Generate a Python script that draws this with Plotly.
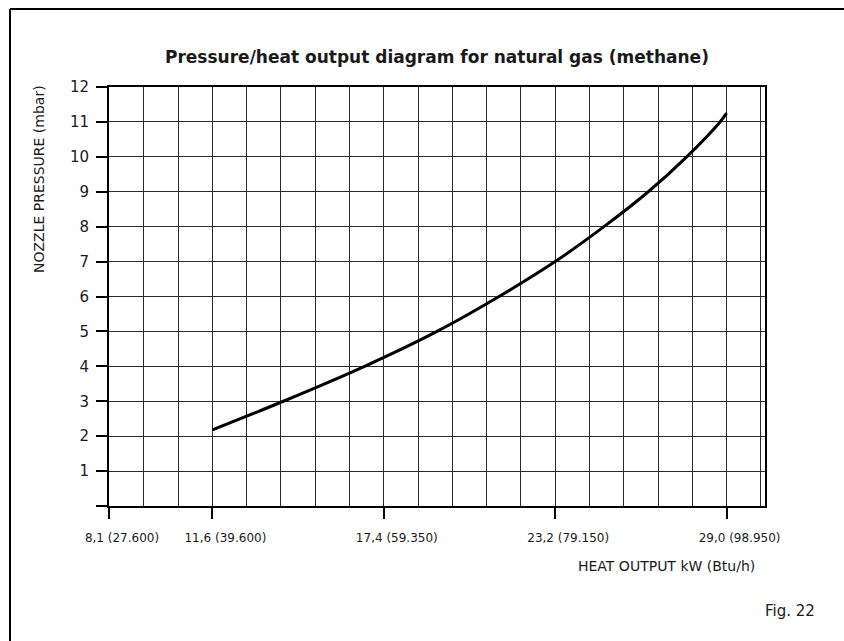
import plotly.graph_objects as go

# Heat output (kW) and nozzle pressure (mbar) along the curve
heat_kw = [11.6, 14.0, 16.75, 19.2, 21.3, 23.2, 24.85, 26.35, 27.65, 28.78, 29.0]
pressure_mbar = [2.18, 3, 4, 5, 6, 7, 8, 9, 10, 11, 11.25]

# Labelled heat output ticks: kW and matching Btu/h
tick_kw = [8.1, 11.6, 17.4, 23.2, 29.0]
tick_btu = ["27.600", "39.600", "59.350", "79.150", "98.950"]
tick_labels = [f"{str(k).replace('.', ',')} ({b})" for k, b in zip(tick_kw, tick_btu)]

pressure_ticks = list(range(0, 13))
pressure_labels = [""] + [str(v) for v in pressure_ticks[1:]]

W, H = 844, 641
L, R, T, B = 109, 79, 87, 135
PW, PH = W - L - R, H - T - B


def px(x):
    return (x - L) / PW


def py(y):
    return (H - B - y) / PH


FONT = "DejaVu Sans"
INK = "#1a1a1a"
GRID = "#2a2a2a"

fig = go.Figure()
fig.add_trace(go.Scatter(
    x=heat_kw, y=pressure_mbar, mode="lines",
    line=dict(color="black", width=3, shape="spline", smoothing=1.0),
    hoverinfo="skip", showlegend=False,
))

fig.update_layout(
    width=W, height=H,
    margin=dict(l=L, r=R, t=T, b=B, autoexpand=False),
    paper_bgcolor="white", plot_bgcolor="white",
    showlegend=False,
    font=dict(family=FONT, color=INK),
)

fig.update_xaxes(
    range=[8.1, 30.3], autorange=False, automargin=False,
    tickmode="array", tickvals=tick_kw, ticktext=tick_labels,
    tickfont=dict(family=FONT, size=12, color=INK),
    ticks="outside", ticklen=11, tickwidth=1.5, tickcolor="black",
    ticklabelshift=13, ticklabelstandoff=9,
    showgrid=True, gridcolor=GRID, gridwidth=1,
    minor=dict(tick0=11.6, dtick=1.16, showgrid=True, gridcolor=GRID,
               gridwidth=1, ticks=""),
    showline=True, linecolor="black", linewidth=2, mirror=True,
    zeroline=False, fixedrange=True,
)

fig.update_yaxes(
    range=[0, 12], autorange=False, automargin=False,
    tickmode="array", tickvals=pressure_ticks, ticktext=pressure_labels,
    tickfont=dict(family=FONT, size=15, color=INK),
    ticks="outside", ticklen=11, tickwidth=1.5, tickcolor="black",
    ticklabelstandoff=4,
    showgrid=True, gridcolor=GRID, gridwidth=1,
    showline=True, linecolor="black", linewidth=2, mirror=True,
    zeroline=False, fixedrange=True,
)

# Page frame: top and left edges running off the page
frame = dict(type="line", xref="paper", yref="paper",
             line=dict(color="black", width=2), layer="above")
fig.add_shape(x0=px(10), y0=py(9), x1=px(W + 20), y1=py(9), **frame)
fig.add_shape(x0=px(10), y0=py(9), x1=px(10), y1=py(H + 20), **frame)

fig.add_annotation(
    text="<b>Pressure/heat output diagram for natural gas (methane)</b>",
    xref="paper", yref="paper", x=px(437), y=py(57),
    xanchor="center", yanchor="middle", showarrow=False,
    font=dict(family=FONT, size=17, color=INK),
)
fig.add_annotation(
    text="NOZZLE PRESSURE (mbar)", textangle=-90,
    xref="paper", yref="paper", x=px(39), y=py(83),
    xanchor="center", yanchor="top", showarrow=False,
    font=dict(family=FONT, size=14, color=INK),
)
fig.add_annotation(
    text="HEAT OUTPUT kW (Btu/h)",
    xref="paper", yref="paper", x=px(757), y=py(566),
    xanchor="right", yanchor="middle", showarrow=False,
    font=dict(family=FONT, size=14, color=INK),
)
fig.add_annotation(
    text="Fig. 22",
    xref="paper", yref="paper", x=px(817), y=py(611),
    xanchor="right", yanchor="middle", showarrow=False,
    font=dict(family=FONT, size=15, color=INK),
)

fig.write_html("out.html", config={"displayModeBar": False})
